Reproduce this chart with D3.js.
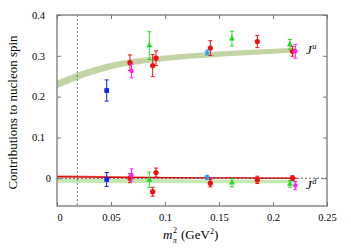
<!DOCTYPE html>
<html>
<head>
<meta charset="utf-8">
<script src="https://cdn.jsdelivr.net/npm/d3@7"></script>
<style>
  body { margin: 0; background: #fff; }
  svg text { font-family: "Liberation Serif", "Times New Roman", Times, serif; fill: #000; }
</style>
</head>
<body>
<div id="chart"></div>
<script>
// lattice points, J^u and J^d vs m_pi^2
var redX = [0.0676, 0.0886, 0.0917, 0.142, 0.1855, 0.218];
var redJu = [0.283, 0.276, 0.294, 0.319, 0.335, 0.311];
var redJuErr = [0.019, 0.027, 0.018, 0.018, 0.015, 0.012];
var redJd = [0.0, -0.033, 0.014, -0.012, -0.004, 0.0];
var redJdErr = [0.011, 0.011, 0.011, 0.009, 0.009, 0.006];

var greenX = [0.0855, 0.162, 0.2157];
var greenJu = [0.325, 0.342, 0.328];
var greenJuErr = [0.034, 0.018, 0.012];
var greenJd = [-0.004, -0.011, -0.014];
var greenJdErr = [0.019, 0.010, 0.008];

var magentaX = [0.069, 0.2207];
var magentaJu = [0.263, 0.311];
var magentaJuErr = [0.017, 0.017];
var magentaJd = [0.008, -0.018];
var magentaJdErr = [0.015, 0.010];

var blueX = [0.046];
var blueJu = [0.215];
var blueJuErr = [0.026];
var blueJd = [-0.003];
var blueJdErr = [0.017];

var lblueX = [0.139];
var lblueJu = [0.308];
var lblueJuErr = [0.006];
var lblueJd = [0.002];
var lblueJdErr = [0.005];

// fit bands
var bandX = [0, 0.02, 0.05, 0.1, 0.15, 0.2, 0.222];
var juBand = [0.230, 0.251, 0.275, 0.294, 0.304, 0.311, 0.314];
var juBandErr = [0.0095, 0.009, 0.008, 0.007, 0.0065, 0.006, 0.006];
var jdLine = [0.004, 0.0035, 0.0025, 0.0015, 0.001, 0.0005, 0.0005];
var jdLineErr = [0.0045, 0.004, 0.003, 0.002, 0.0015, 0.0015, 0.0015];
var jdGreen = [-0.006, -0.006, -0.007, -0.007, -0.008, -0.008, -0.008];
var jdGreenErr = [0.005, 0.005, 0.005, 0.0045, 0.0045, 0.0045, 0.0045];

var xTicks = [0, 0.05, 0.1, 0.15, 0.2, 0.25];
var yTicks = [0, 0.1, 0.2, 0.3, 0.4];
var physPoint = 0.0188;

var svgWidth = 351, svgHeight = 248;
var margin = { top: 15, right: 24, bottom: 42, left: 57 };
var width = svgWidth - margin.left - margin.right;
var height = svgHeight - margin.top - margin.bottom;

var svg = d3.select("#chart").append("svg")
  .attr("width", svgWidth)
  .attr("height", svgHeight);

// striped fill for the J^u band
var pat = svg.append("defs").append("pattern")
  .attr("id", "stripes")
  .attr("patternUnits", "userSpaceOnUse")
  .attr("width", 3).attr("height", 10);
pat.append("rect").attr("width", 3).attr("height", 10).attr("fill", "#b2dc9c");
pat.append("rect").attr("x", 2).attr("width", 1).attr("height", 10).attr("fill", "#e6c4b4");

var g = svg.append("g")
  .attr("transform", `translate(${margin.left}, ${margin.top})`);

var x = d3.scaleLinear().domain([0, 0.25]).range([0, width]);
var y = d3.scaleLinear().domain([-0.068, 0.4]).range([height, 0]);

function band(center, err) {
  return d3.area()
    .x((d, i) => x(bandX[i]))
    .y0((d, i) => y(center[i] - err[i]))
    .y1((d, i) => y(center[i] + err[i]))
    .curve(d3.curveMonotoneX)(bandX);
}
function line(center) {
  return d3.line()
    .x((d, i) => x(bandX[i]))
    .y((d, i) => y(center[i]))
    .curve(d3.curveMonotoneX)(bandX);
}

g.append("path").attr("d", band(juBand, juBandErr))
  .attr("fill", "url(#stripes)");

g.append("path").attr("d", band(jdGreen, jdGreenErr))
  .attr("fill", "#c2eab2");
g.append("path").attr("d", band(jdLine, jdLineErr))
  .attr("fill", "#f4a0a0").attr("opacity", 0.8);
g.append("path").attr("d", line(jdLine))
  .attr("fill", "none").attr("stroke", "#e00000").attr("stroke-width", 1.3);

// reference lines
g.append("line")
  .attr("x1", x(physPoint)).attr("x2", x(physPoint))
  .attr("y1", 0).attr("y2", height)
  .attr("stroke", "#555").attr("stroke-width", 0.8)
  .attr("stroke-dasharray", "2,2");
g.append("line")
  .attr("x1", 0).attr("x2", width)
  .attr("y1", y(0)).attr("y2", y(0))
  .attr("stroke", "#333").attr("stroke-width", 0.8)
  .attr("stroke-dasharray", "2,2");

// points with error bars
function drawSeries(xs, ys, errs, color, shape, size) {
  var grp = g.append("g");
  xs.forEach(function(xv, i) {
    var cx = x(xv), yv = ys[i], e = errs[i];
    grp.append("line")
      .attr("x1", cx).attr("x2", cx)
      .attr("y1", y(yv - e)).attr("y2", y(yv + e))
      .attr("stroke", color).attr("stroke-width", 1);
    [yv - e, yv + e].forEach(function(v) {
      grp.append("line")
        .attr("x1", cx - 2).attr("x2", cx + 2)
        .attr("y1", y(v)).attr("y2", y(v))
        .attr("stroke", color).attr("stroke-width", 1);
    });
    grp.append("path")
      .attr("d", d3.symbol().type(shape).size(size)())
      .attr("transform", `translate(${cx}, ${y(yv)})`)
      .attr("fill", color);
  });
}

drawSeries(redX, redJu, redJuErr, "#ee1111", d3.symbolCircle, 22);
drawSeries(redX, redJd, redJdErr, "#ee1111", d3.symbolCircle, 22);
drawSeries(greenX, greenJu, greenJuErr, "#22dd22", d3.symbolTriangle, 16);
drawSeries(greenX, greenJd, greenJdErr, "#22dd22", d3.symbolTriangle, 16);
drawSeries(magentaX, magentaJu, magentaJuErr, "#ff22ff", d3.symbolCircle, 16);
drawSeries(magentaX, magentaJd, magentaJdErr, "#ff22ff", d3.symbolCircle, 16);
drawSeries(blueX, blueJu, blueJuErr, "#1122ee", d3.symbolSquare, 22);
drawSeries(blueX, blueJd, blueJdErr, "#1122ee", d3.symbolSquare, 22);
drawSeries(lblueX, lblueJu, lblueJuErr, "#3399ee", d3.symbolStar, 14);
drawSeries(lblueX, lblueJd, lblueJdErr, "#3399ee", d3.symbolStar, 14);

// frame and ticks (inward on all sides)
g.append("rect")
  .attr("width", width).attr("height", height)
  .attr("fill", "none").attr("stroke", "#777").attr("stroke-width", 1.3);

var bottomAxis = d3.axisBottom(x).tickValues(xTicks).tickSize(-4)
  .tickFormat(d => d === 0 ? "0" : d3.format("")(d));
var topAxis = d3.axisTop(x).tickValues(xTicks).tickSize(-4).tickFormat("");
var leftAxis = d3.axisLeft(y).tickValues(yTicks).tickSize(-4)
  .tickFormat(d => d === 0 ? "0" : d3.format("")(d));
var rightAxis = d3.axisRight(y).tickValues(yTicks).tickSize(-4).tickFormat("");

function styleAxis(sel) {
  sel.attr("font-family", null);
  sel.select(".domain").remove();
  sel.selectAll(".tick line").attr("stroke", "#777");
  sel.selectAll(".tick text").attr("font-size", 10.5);
}

g.append("g").attr("transform", `translate(0, ${height})`).call(bottomAxis)
  .call(styleAxis)
  .selectAll(".tick text").attr("dy", "1.05em").attr("y", 4)
  .attr("dx", d => d === 0 ? 2.5 : 0);
g.append("g").call(topAxis).call(styleAxis);
g.append("g").call(leftAxis).call(styleAxis)
  .selectAll(".tick text").attr("x", d => d === 0 ? -6 : -12);
g.append("g").attr("transform", `translate(${width}, 0)`).call(rightAxis).call(styleAxis);

// labels
svg.append("text")
  .attr("transform", `translate(17, ${margin.top + height / 2 + 2}) rotate(-90)`)
  .attr("text-anchor", "middle")
  .attr("font-size", 13)
  .text("Contributions to nucleon spin");

// x label: m with stacked ^2 and _pi, then (GeV^2)
var xlX = 163, xlY = 239;
svg.append("text").attr("x", xlX).attr("y", xlY).attr("font-size", 13)
  .attr("font-style", "italic").text("m");
svg.append("text").attr("x", xlX + 10).attr("y", xlY - 6).attr("font-size", 8)
  .text("2");
svg.append("text").attr("x", xlX + 10).attr("y", xlY + 3.5).attr("font-size", 7.5)
  .attr("font-style", "italic").text("π");
var xl = svg.append("text").attr("x", xlX + 18).attr("y", xlY).attr("font-size", 13);
xl.append("tspan").text("(GeV");
xl.append("tspan").attr("font-size", 8).attr("dy", -5).text("2");
xl.append("tspan").attr("dy", 5).text(")");

function jLabel(px, py, sup) {
  var t = g.append("text").attr("x", px).attr("y", py).attr("font-size", 13);
  t.append("tspan").attr("font-style", "italic").text("J");
  t.append("tspan").attr("font-style", "italic").attr("font-size", 8.5).attr("dy", -5).attr("dx", 0.5).text(sup);
}
jLabel(x(0.2305), y(0.305), "u");
jLabel(x(0.2305), y(-0.026), "d");
</script>
</body>
</html>
